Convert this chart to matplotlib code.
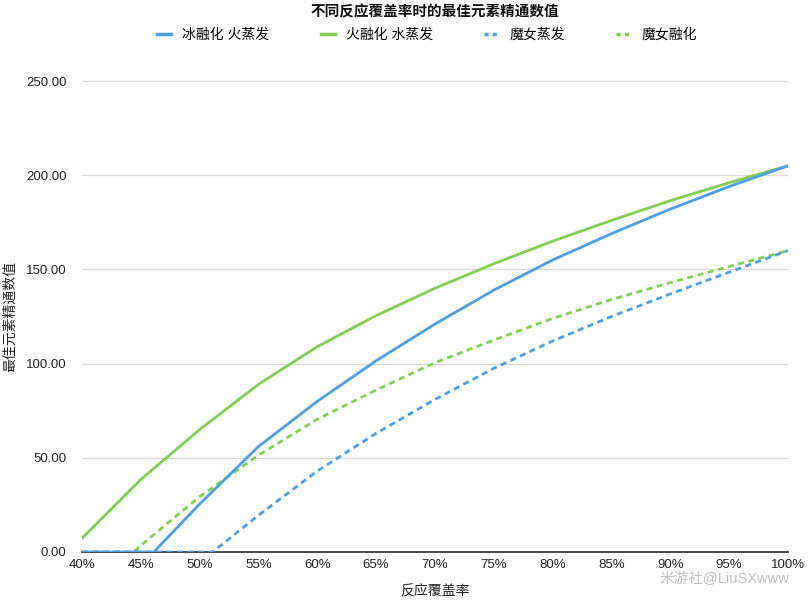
import matplotlib
matplotlib.use("Agg")
import matplotlib.pyplot as plt
from matplotlib.lines import Line2D

plt.rcParams['font.family'] = ['Liberation Sans', 'Noto Sans CJK SC', 'DejaVu Sans']

title = "不同反应覆盖率时的最佳元素精通数值"
xlabel = "反应覆盖率"
ylabel = "最佳元素精通数值"
watermark = "米游社@LiuSXwww"

xticks = [40, 45, 50, 55, 60, 65, 70, 75, 80, 85, 90, 95, 100]
yticks = [0, 50, 100, 150, 200, 250]

# 冰融化 火蒸发 (solid blue)
ice_x = [40, 46.1, 50, 55, 60, 65, 70, 75, 80, 85, 90, 95, 100]
ice_y = [0, 0, 25.5, 56, 80, 101.5, 121, 139, 155, 169, 182, 194, 205]

# 火融化 水蒸发 (solid green)
fire_x = [40, 45, 50, 55, 60, 65, 70, 75, 80, 85, 90, 95, 100]
fire_y = [7.3, 38.5, 65, 89, 109, 125.5, 140, 153, 165, 176, 186.5, 196, 205]

# 魔女蒸发 (dashed blue)
cw_vap_x = [40, 51.1, 55, 60, 65, 70, 75, 80, 85, 90, 95, 100]
cw_vap_y = [0, 0, 19.5, 43, 63, 81, 97.5, 112, 125, 137, 148.5, 160]

# 魔女融化 (dashed green)
cw_melt_x = [40, 44.4, 45, 50, 55, 60, 65, 70, 75, 80, 85, 90, 95, 100]
cw_melt_y = [0, 0, 3.5, 29.4, 51.4, 70.5, 86, 100.5, 112.5, 124, 134, 143, 151.5, 160]

labels = ["冰融化 火蒸发", "火融化 水蒸发", "魔女蒸发", "魔女融化"]

blue = "#4c9ee6"
green = "#80cf52"

fig = plt.figure(figsize=(8.1, 6.0), dpi=100)
ax = fig.add_axes([82/810, 1-552/600, (788-82)/810, (552-81)/600])

lw = 2.0
ax.plot(cw_melt_x, cw_melt_y, color=green, lw=lw, dashes=(2.2, 1.6), zorder=3)
ax.plot(cw_vap_x, cw_vap_y, color=blue, lw=lw, dashes=(2.2, 1.6), zorder=3)
ax.plot(fire_x, fire_y, color=green, lw=lw, zorder=4)
ax.plot(ice_x, ice_y, color=blue, lw=lw, zorder=5)

ax.set_xlim(40, 100)
ax.set_ylim(0, 250)
ax.set_xticks(xticks)
ax.set_xticklabels([f"{t}%" for t in xticks], fontsize=9.5)
ax.set_yticks(yticks)
ax.set_yticklabels([f"{t:.2f}" for t in yticks], fontsize=9.5)
ax.tick_params(axis='both', length=0, colors="#222222")
ax.tick_params(axis='y', pad=11)
ax.tick_params(axis='x', pad=5)
ax.grid(axis='y', color="#d9d9d9", lw=0.9)
ax.set_axisbelow(True)
for s in ['left', 'right', 'top']:
    ax.spines[s].set_visible(False)
ax.spines['bottom'].set_color("#3a3a3a")
ax.spines['bottom'].set_linewidth(1.3)
ax.spines['bottom'].set_zorder(2)

ax.set_xlabel(xlabel, fontsize=10, labelpad=10, color="#222222")
ax.set_ylabel(ylabel, fontsize=10, color="#222222")
ax.yaxis.set_label_coords((17 - 82) / 706, 0.5)

fig.text(0.537, 0.992, title, ha='center', va='top', fontsize=10.5, fontweight='bold', color="#111111")

handles = [
    Line2D([], [], color=blue, lw=2.5),
    Line2D([], [], color=green, lw=2.5),
    Line2D([], [], color=blue, lw=2.5, dashes=(1.2, 1.2)),
    Line2D([], [], color=green, lw=2.5, dashes=(1.2, 1.2)),
]
fig.legend(handles, labels, loc='center', bbox_to_anchor=(0.527, 0.942), ncol=4,
           frameon=False, fontsize=10, handlelength=1.0, handletextpad=0.8,
           columnspacing=3.7)

fig.text(0.975, 0.035, watermark, ha='right', va='center', fontsize=10.5,
         color="#b8b8b8", alpha=0.9)

fig.savefig("out.png", dpi=100)
